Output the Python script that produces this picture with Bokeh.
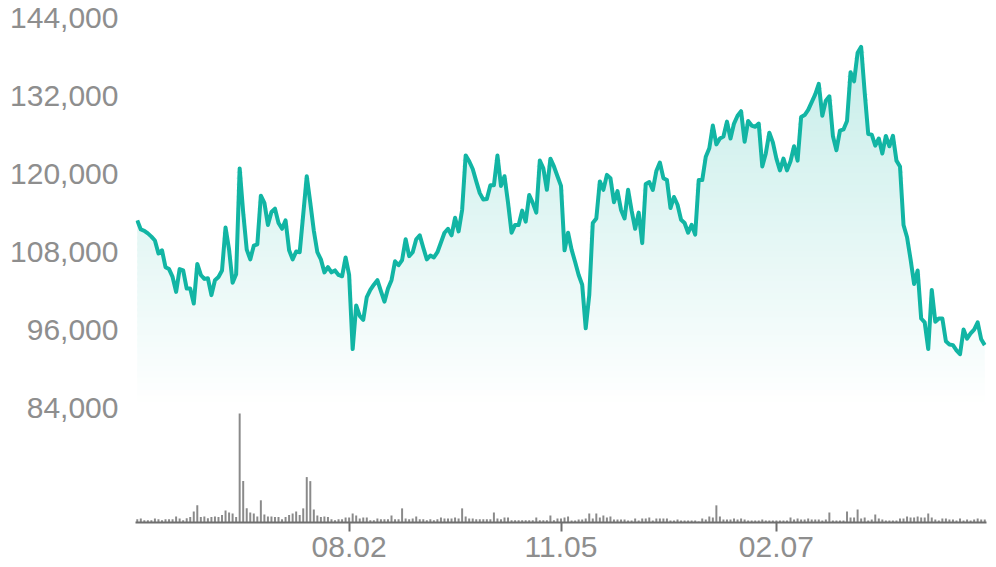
import numpy as np
from bokeh.plotting import figure
from bokeh.models import Range1d, LinearAxis, FixedTicker, NumeralTickFormatter
from bokeh.embed import file_html
from bokeh.resources import INLINE

# ---- data ----
tick_labels = ["08.02", "11.05", "02.07"]
tick_positions = [60, 120, 181]
price_ticks = [84000, 96000, 108000, 120000, 132000, 144000]

price = [
    112800, 111400, 111200, 110800, 110300, 109700, 107700, 108200, 105600, 105300,
    104100, 101800, 105300, 105100, 102300, 102300, 100000, 106100, 104400, 103800,
    103900, 101300, 103600, 104100, 105100, 111700, 108300, 103200, 104500, 120800,
    114000, 108300, 106800, 108900, 109100, 116600, 115500, 112100, 114100, 114600,
    112400, 111500, 112800, 108200, 106800, 108000, 107900, 113700, 119600, 115500,
    111200, 107900, 106800, 104800, 105600, 104800, 105100, 104400, 104200, 107100,
    104400, 93000, 99700, 98100, 97500, 101000, 102100, 102900, 103600, 101900,
    100300, 102300, 103600, 106500, 105900, 106700, 109900, 107300, 107900, 109900,
    110500, 108600, 106800, 107400, 107100, 107900, 109400, 110900, 111500, 110500,
    113200, 111100, 114400, 122800, 121900, 120700, 118800, 117000, 116000, 116100,
    118200, 118200, 122800, 118100, 119600, 115500, 110900, 112100, 112100, 114300,
    112600, 116700, 115500, 114000, 122000, 120800, 117500, 122300, 121100, 119600,
    118100, 108200, 110900, 108300, 106400, 104400, 102900, 96200, 101300, 112400,
    113100, 118800, 117500, 119800, 119300, 115600, 117300, 114400, 113100, 117500,
    114300, 111500, 114000, 109300, 118400, 118700, 117500, 120400, 121700, 119300,
    119000, 114700, 116400, 115200, 112900, 112400, 110900, 112100, 110600, 119000,
    119000, 122600, 123900, 127400, 124500, 125400, 125700, 128000, 125400, 127700,
    128900, 129600, 124900, 128100, 127400, 127200, 127700, 121100, 123100, 126300,
    124800, 122300, 120500, 122300, 120500, 121900, 124200, 122000, 128700, 129000,
    129800, 131000, 132200, 133800, 128900, 131200, 131900, 125800, 123600, 126600,
    126800, 128100, 135600, 134200, 138600, 139500, 132500, 126100, 126000, 124300,
    125400, 123100, 125800, 124200, 125800, 122000, 121100, 112100, 110200, 106800,
    103000, 105100, 97700, 97100, 93000, 102100, 97200, 97700, 97700, 94200,
    93700, 93600, 92800, 92200, 96000, 94600, 95400, 96000, 97100, 94500,
    93600,
]

volume = [
    10, 12, 7, 7, 7, 12, 10, 7, 10, 10,
    10, 18, 12, 7, 13, 16, 33, 51, 16, 18,
    13, 16, 18, 16, 22, 36, 30, 27, 16, 324,
    123, 42, 30, 27, 18, 66, 24, 18, 18, 16,
    16, 10, 16, 22, 27, 33, 22, 42, 135, 123,
    39, 21, 16, 18, 16, 10, 7, 10, 10, 15,
    15, 27, 21, 12, 15, 15, 7, 7, 12, 10,
    10, 10, 21, 10, 10, 42, 12, 10, 12, 18,
    10, 10, 7, 10, 7, 10, 15, 12, 12, 12,
    15, 12, 42, 18, 12, 12, 10, 10, 10, 10,
    10, 30, 12, 10, 15, 15, 7, 7, 7, 7,
    7, 7, 7, 15, 7, 7, 7, 21, 7, 12,
    12, 15, 18, 6, 6, 9, 9, 12, 27, 12,
    27, 15, 21, 15, 18, 9, 9, 9, 9, 6,
    6, 12, 6, 12, 12, 15, 6, 12, 12, 12,
    12, 6, 6, 9, 6, 6, 6, 6, 6, 3,
    12, 9, 18, 15, 51, 18, 9, 9, 9, 12,
    9, 12, 9, 6, 6, 6, 6, 9, 6, 6,
    6, 6, 6, 6, 6, 15, 9, 12, 9, 9,
    12, 9, 9, 9, 6, 9, 30, 6, 6, 6,
    6, 33, 15, 15, 39, 12, 15, 6, 9, 24,
    12, 9, 6, 6, 6, 6, 12, 12, 18, 15,
    15, 18, 15, 15, 27, 15, 9, 6, 12, 12,
    9, 9, 6, 12, 6, 9, 6, 9, 12, 9,
    9,
]

# ---- styling ----
TEAL = (18, 181, 164)
TEAL_HEX = "#12b5a4"
LABEL = "#8e8e8e"
GRID = "#ebebeb"
AXIS = "#6e6e6e"
FONT = "Liberation Sans"

n = len(price)
idx = np.arange(n)
price_arr = np.array(price, dtype=float)

p = figure(
    width=996, height=567,
    x_range=Range1d(-0.5, n - 0.5),
    y_range=Range1d(66310, 144020),
    output_backend="svg", toolbar_location=None,
    min_border_left=135, min_border_right=10,
    min_border_top=17, min_border_bottom=45,
    x_axis_type=None, y_axis_type=None,
)
p.outline_line_color = None
p.background_fill_color = "white"
p.border_fill_color = "white"

p.extra_y_ranges = {"vol": Range1d(0, 1501)}

# axes
yaxis = LinearAxis(ticker=FixedTicker(ticks=price_ticks),
                   formatter=NumeralTickFormatter(format="0,0"))
yaxis.axis_line_color = None
yaxis.major_tick_line_color = None
yaxis.major_tick_in = 0
yaxis.major_tick_out = 0
yaxis.minor_tick_line_color = None
yaxis.major_label_text_font = FONT
yaxis.major_label_text_font_size = "30px"
yaxis.major_label_text_color = LABEL
yaxis.major_label_standoff = 17
p.add_layout(yaxis, "left")

xaxis = LinearAxis(ticker=FixedTicker(ticks=tick_positions))
xaxis.major_label_overrides = {k: v for k, v in zip(tick_positions, tick_labels)}
xaxis.axis_line_color = AXIS
xaxis.axis_line_width = 2
xaxis.major_tick_line_color = AXIS
xaxis.major_tick_line_width = 2
xaxis.major_tick_in = 0
xaxis.major_tick_out = 9
xaxis.minor_tick_line_color = None
xaxis.major_label_text_font = FONT
xaxis.major_label_text_font_size = "30px"
xaxis.major_label_text_color = LABEL
xaxis.major_label_standoff = 5
p.add_layout(xaxis, "below")

p.xgrid.ticker = FixedTicker(ticks=tick_positions)
p.ygrid.ticker = FixedTicker(ticks=price_ticks)
for g in (p.xgrid, p.ygrid):
    g.grid_line_color = GRID
    g.grid_line_width = 1.5

# vertical gradient fill under the line: opaque colour bands, bottom to top
base = price_ticks[0]
top_level = max(price)
n_bands = 60
edges = np.linspace(base, top_level, n_bands + 1)
overlap = (edges[1] - edges[0]) * 0.5
amax = 0.24
for k in range(n_bands):
    b0, b1 = edges[k], edges[k + 1]
    a = amax * ((b0 + b1) / 2 - base) / (top_level - base)
    col = "#%02x%02x%02x" % tuple(int(round(255 * (1 - a) + c * a)) for c in TEAL)
    y2 = np.clip(price_arr, b0, b1 + overlap)
    p.varea(x=idx, y1=b0, y2=y2, fill_color=col, fill_alpha=1.0)

# price line
p.line(idx, price, line_color=TEAL_HEX, line_width=4, line_join="round")

# volume bars
p.vbar(x=idx, top=volume, bottom=0, width=0.56, y_range_name="vol",
       fill_color="#8a8a8a", line_color=None)

open("out.html", "w").write(file_html(p, INLINE))
